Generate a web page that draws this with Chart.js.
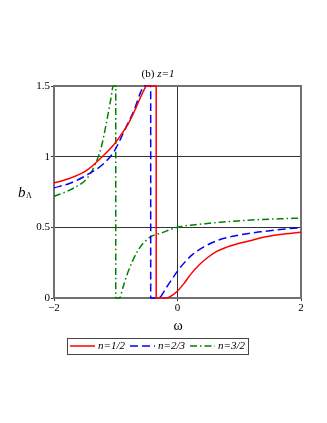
<!DOCTYPE html>
<html>
<head>
<meta charset="utf-8">
<script src="https://cdn.jsdelivr.net/npm/chart.js@4"></script>
<style>
  html, body { margin: 0; padding: 0; background: #fff; }
  #wrap { width: 327px; height: 423px; }
</style>
</head>
<body>
<div id="wrap"><canvas id="chart" width="327" height="423"></canvas></div>
<script>
// values (b_Lambda vs omega, z = 1), clipped to [0, 1.5]
const omegaHalf = [-2, -1.73, -1.46, -1.19, -1.05, -0.92, -0.8, -0.705, -0.6, -0.55, -0.5, -0.345, -0.345, -0.18, -0.1, 0, 0.1, 0.2, 0.365, 0.5, 0.635, 0.8, 0.905, 1.17, 1.34, 1.66, 2];
const bHalf =     [0.814, 0.849, 0.907, 1.012, 1.075, 1.151, 1.23, 1.314, 1.419, 1.465, 1.5, 1.5, 0, 0, 0.015, 0.05, 0.1, 0.16, 0.24, 0.29, 0.33, 0.36, 0.375, 0.405, 0.425, 0.449, 0.465];

const omegaTwoThirds = [-2, -1.73, -1.46, -1.19, -1.03, -0.92, -0.8, -0.705, -0.6, -0.54, -0.434, -0.434, -0.31, -0.175, 0, 0.1, 0.25, 0.42, 0.635, 0.9, 1.17, 1.34, 1.66, 2];
const bTwoThirds =     [0.779, 0.814, 0.872, 0.953, 1.035, 1.128, 1.24, 1.326, 1.453, 1.5, 1.5, 0, 0, 0.078, 0.19, 0.245, 0.31, 0.36, 0.405, 0.437, 0.458, 0.468, 0.485, 0.498];

const omegaThreeHalves = [-2, -1.73, -1.46, -1.35, -1.24, -1.16, -1.08, -1.04, -1.0, -1.0, -0.94, -0.88, -0.8, -0.635, -0.445, -0.26, 0, 0.45, 0.69, 1.01, 1.34, 1.66, 2];
const bThreeHalves =     [0.72, 0.767, 0.849, 0.93, 1.058, 1.22, 1.407, 1.5, 1.5, 0, 0, 0.08, 0.185, 0.34, 0.43, 0.46, 0.5, 0.526, 0.536, 0.546, 0.555, 0.56, 0.566];

const xTicks = [-2, 0, 2];
const yTicks = [0, 0.5, 1, 1.5];
const seriesNames = ["n=1/2", "n=2/3", "n=3/2"];

function toPoints(xs, ys) {
    return xs.map((x, i) => ({ x: x, y: ys[i] }));
}

const colors = ["#ff0000", "#0000ff", "#008000"];
const dashes = [[], [8, 4], [7, 3, 1.5, 3]];

// Frame under the curves, so the clipped parts at 1.5 and 0 stay visible
const framePlugin = {
    id: "frame",
    beforeDatasetsDraw(chart) {
        const ctx = chart.ctx;
        const a = chart.chartArea;
        ctx.save();
        ctx.strokeStyle = "#707070";
        ctx.lineWidth = 2;
        ctx.strokeRect(a.left, a.top, a.right - a.left, a.bottom - a.top);
        ctx.restore();
    }
};

// Extra text and legend drawn by hand
const decorPlugin = {
    id: "decor",
    afterDraw(chart) {
        const ctx = chart.ctx;
        ctx.save();
        ctx.fillStyle = "#000";
        ctx.textBaseline = "middle";

        // title "(b) z=1"
        ctx.font = "11px 'Liberation Serif'";
        ctx.textAlign = "left";
        const t1 = "(b) ";
        const w1 = ctx.measureText(t1).width;
        ctx.font = "italic 11px 'Liberation Serif'";
        const w2 = ctx.measureText("z=1").width;
        let tx = 158 - (w1 + w2) / 2;
        ctx.font = "11px 'Liberation Serif'";
        ctx.fillText(t1, tx, 74);
        ctx.font = "italic 11px 'Liberation Serif'";
        ctx.fillText("z=1", tx + w1, 74);

        // x label
        ctx.font = "14px 'Liberation Serif'";
        ctx.textAlign = "center";
        ctx.fillText("\u03c9", 178, 326);

        // y label b_Lambda
        ctx.textAlign = "left";
        ctx.font = "italic 15px 'Liberation Serif'";
        ctx.fillText("b", 18, 193);
        ctx.font = "8px 'Liberation Serif'";
        ctx.fillText("\u039b", 26, 196);

        // legend
        ctx.strokeStyle = "#444";
        ctx.lineWidth = 1;
        ctx.strokeRect(67.5, 338.5, 181, 16);
        const lx = [70, 130, 190];
        const tx2 = [98, 158, 218];
        ctx.font = "italic 11px 'Liberation Serif'";
        for (let i = 0; i < 3; i++) {
            ctx.strokeStyle = colors[i];
            ctx.lineWidth = 1.5;
            ctx.setLineDash(dashes[i]);
            ctx.beginPath();
            ctx.moveTo(lx[i], 346);
            ctx.lineTo(lx[i] + 25, 346);
            ctx.stroke();
            ctx.setLineDash([]);
            ctx.fillStyle = "#000";
            ctx.fillText(seriesNames[i], tx2[i], 346.5);
        }
        ctx.restore();
    }
};

new Chart(document.getElementById("chart"), {
    type: "scatter",
    data: {
        datasets: [
            { label: seriesNames[0], data: toPoints(omegaHalf, bHalf) },
            { label: seriesNames[1], data: toPoints(omegaTwoThirds, bTwoThirds) },
            { label: seriesNames[2], data: toPoints(omegaThreeHalves, bThreeHalves) }
        ].map((d, i) => Object.assign(d, {
            showLine: true,
            borderColor: colors[i],
            borderWidth: 1.5,
            borderDash: dashes[i],
            pointRadius: 0,
            tension: 0.4,
            cubicInterpolationMode: "monotone",
            clip: 2,
            fill: false
        }))
    },
    options: {
        responsive: false,
        animation: false,
        layout: { padding: { top: 86, right: 26, bottom: 105, left: 0 } },
        plugins: {
            legend: { display: false },
            title: { display: false },
            tooltip: { enabled: false }
        },
        scales: {
            x: {
                type: "linear",
                min: -2,
                max: 2,
                afterBuildTicks: scale => { scale.ticks = xTicks.map(v => ({ value: v })); },
                afterFit: scale => { scale.height = 20; },
                border: { display: false },
                grid: {
                    color: c => (c.tick && c.tick.value === 0 ? "#333" : "rgba(0,0,0,0)"),
                    lineWidth: 1,
                    tickLength: 3,
                    tickColor: "#333"
                },
                ticks: {
                    color: "#000",
                    padding: 1,
                    maxRotation: 0,
                    font: { family: "'Liberation Serif'", size: 11 },
                    callback: v => (v < 0 ? "\u2212" + Math.abs(v) : String(v))
                }
            },
            y: {
                min: 0,
                max: 1.5,
                afterBuildTicks: scale => { scale.ticks = yTicks.map(v => ({ value: v })); },
                afterFit: scale => { scale.width = 54; },
                border: { display: false },
                grid: {
                    color: c => (c.tick && (c.tick.value === 0.5 || c.tick.value === 1) ? "#333" : "rgba(0,0,0,0)"),
                    lineWidth: 1,
                    tickLength: 3,
                    tickColor: "#333"
                },
                ticks: {
                    color: "#000",
                    padding: 1,
                    font: { family: "'Liberation Serif'", size: 11 },
                    callback: v => String(v)
                }
            }
        }
    },
    plugins: [framePlugin, decorPlugin]
});
</script>
</body>
</html>
